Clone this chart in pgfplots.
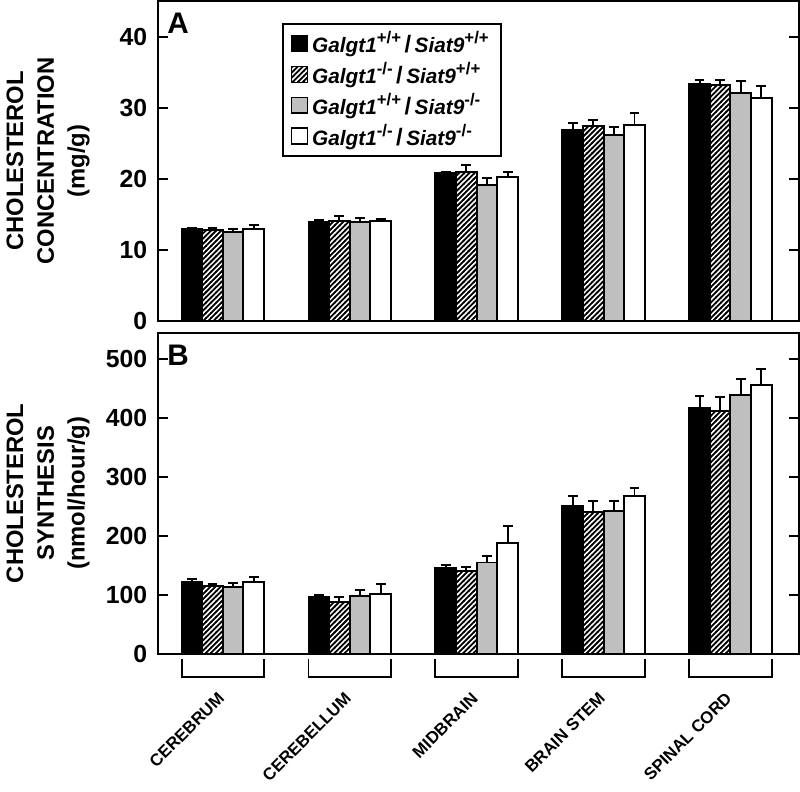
\documentclass[border=0pt]{standalone}
\usepackage{fontspec}
\setmainfont{Liberation Sans}
\usepackage{pgfplots}
\pgfplotsset{compat=1.18}
\usepackage{pgfplotstable}
\usetikzlibrary{patterns}

\pgfdeclarepatternformonly{hatch}{\pgfqpoint{-1pt}{-1pt}}{\pgfqpoint{3.6pt}{3.6pt}}{\pgfqpoint{2.6pt}{2.6pt}}{%
  \pgfsetlinewidth{0.9pt}
  \pgfpathmoveto{\pgfqpoint{-0.2pt}{-0.2pt}}
  \pgfpathlineto{\pgfqpoint{2.8pt}{2.8pt}}
  \pgfusepath{stroke}}

% cholesterol concentration (mg/g), value and upper error
\pgfplotstableread{
x a ae b be c ce d de
0 12.9 0.2 12.8 0.3 12.5 0.4 13.0 0.5
1 13.85 0.35 14.1 0.7 13.95 0.55 14.0 0.4
2 20.8 0.2 20.9 1.0 19.15 0.95 20.2 0.7
3 26.9 0.9 27.4 0.8 26.1 1.2 27.6 1.6
4 33.3 0.6 33.2 0.7 32.1 1.6 31.3 1.8
}\concA

% cholesterol synthesis (nmol/hour/g)
\pgfplotstableread{
x a ae b be c ce d de
0 122 5 115 3 114 6 122 8
1 96 4 88 9 98.5 10.5 101 17
2 146 5 140 7 155 10.5 188 29
3 251 17.6 241 19 243 17 268 13
4 418 20 413 23 439 27 456 28
}\synB

\newcommand{\sups}[1]{\raisebox{0.42em}{\fontsize{8.5}{8.5}\selectfont\upshape#1}}
\newcommand{\gen}[2]{Galgt1\sups{#1}\,{\upshape\fontsize{12}{12}\selectfont/}\,Siat9\sups{#2}}

\pgfplotsset{
  panel/.style={
    scale only axis, width=323.5pt,
    xmin=-0.51, xmax=4.54, ymin=0,
    ybar, bar width=0.1625,
    tick align=inside, ytick pos=both, major tick length=5pt,
    axis line style={line width=1pt},
    major tick style={line width=1pt,black},
    ticklabel style={font=\fontsize{12.5}{14}\selectfont\bfseries},
    yticklabel style={xshift=-2pt},
    /pgf/number format/assume math mode=true,
    ylabel style={align=center, font=\fontsize{12}{15.5}\selectfont\bfseries,
      at={(axis description cs:-0.1716,0.5)}, anchor=center},
    clip=false,
  },
  eb/.style={error bars/.cd, y dir=plus, y explicit,
    error bar style={line width=1pt,black},
    error mark options={rotate=90,mark size=2.5pt,line width=1pt,black}},
  gA/.style={draw=black,fill=black,line width=1pt,bar shift=-0.24375,eb},
  gB/.style={draw=black,fill=white,postaction={pattern=hatch},line width=1pt,bar shift=-0.08125,eb},
  gC/.style={draw=black,fill=black!25,line width=1pt,bar shift=0.08125,eb},
  gD/.style={draw=black,fill=white,line width=1pt,bar shift=0.24375,eb},
}

\begin{document}
\begin{tikzpicture}
\begin{axis}[panel, name=A, at={(0,0)}, anchor=south west,
  height=161.5pt, ymax=45, ytick={0,10,...,40}, xtick=\empty,
  ylabel={CHOLESTEROL\\CONCENTRATION\\(mg/g)},
  legend style={at={(axis description cs:0.193,0.932)}, anchor=north west,
    draw=black, line width=1pt, inner xsep=4pt, inner ysep=2pt, row sep=-0.5pt,
    font=\fontsize{10.5}{12}\selectfont\bfseries\itshape, cells={anchor=west}},
  legend image code/.code={\draw[#1,line width=0.8pt] (0pt,-4pt) rectangle (8pt,4pt);},
]
\addplot[gA] table[x=x,y=a,y error=ae] {\concA};
\addplot[gB] table[x=x,y=b,y error=be] {\concA};
\addplot[gC] table[x=x,y=c,y error=ce] {\concA};
\addplot[gD] table[x=x,y=d,y error=de] {\concA};
\legend{\gen{+/+}{+/+},\gen{-/-}{+/+},\gen{+/+}{-/-},\gen{-/-}{-/-}}
\node[anchor=north west,inner sep=0pt,font=\fontsize{15}{15}\selectfont\bfseries]
  at ([xshift=4.5pt,yshift=-6pt]rel axis cs:0,1) {A};
\end{axis}

\begin{axis}[panel, name=B, at={(0,-6pt)}, anchor=north west,
  height=162pt, ymax=545, ytick={0,100,...,500},
  xtick={0,...,4}, major x tick style={draw=none},
  xticklabels={CEREBRUM,CEREBELLUM,MIDBRAIN,BRAIN STEM,SPINAL CORD},
  xticklabel style={xshift=-3pt, yshift=-14pt, rotate=45, anchor=north east,
    font=\fontsize{8.5}{10}\selectfont\bfseries},
  ylabel={CHOLESTEROL\\SYNTHESIS\\(nmol/hour/g)},
]
\addplot[gA] table[x=x,y=a,y error=ae] {\synB};
\addplot[gB] table[x=x,y=b,y error=be] {\synB};
\addplot[gC] table[x=x,y=c,y error=ce] {\synB};
\addplot[gD] table[x=x,y=d,y error=de] {\synB};
\node[anchor=north west,inner sep=0pt,font=\fontsize{15}{15}\selectfont\bfseries]
  at ([xshift=4.5pt,yshift=-6pt]rel axis cs:0,1) {B};
\draw[line width=1pt] ([yshift=-2.5pt]axis cs:-0.325,0) |- ([yshift=-11.5pt]axis cs:0.325,0) -- ([yshift=-2.5pt]axis cs:0.325,0);
\draw[line width=1pt] ([yshift=-2.5pt]axis cs:0.675,0) |- ([yshift=-11.5pt]axis cs:1.325,0) -- ([yshift=-2.5pt]axis cs:1.325,0);
\draw[line width=1pt] ([yshift=-2.5pt]axis cs:1.675,0) |- ([yshift=-11.5pt]axis cs:2.325,0) -- ([yshift=-2.5pt]axis cs:2.325,0);
\draw[line width=1pt] ([yshift=-2.5pt]axis cs:2.675,0) |- ([yshift=-11.5pt]axis cs:3.325,0) -- ([yshift=-2.5pt]axis cs:3.325,0);
\draw[line width=1pt] ([yshift=-2.5pt]axis cs:3.675,0) |- ([yshift=-11.5pt]axis cs:4.325,0) -- ([yshift=-2.5pt]axis cs:4.325,0);
\end{axis}
\end{tikzpicture}
\end{document}
